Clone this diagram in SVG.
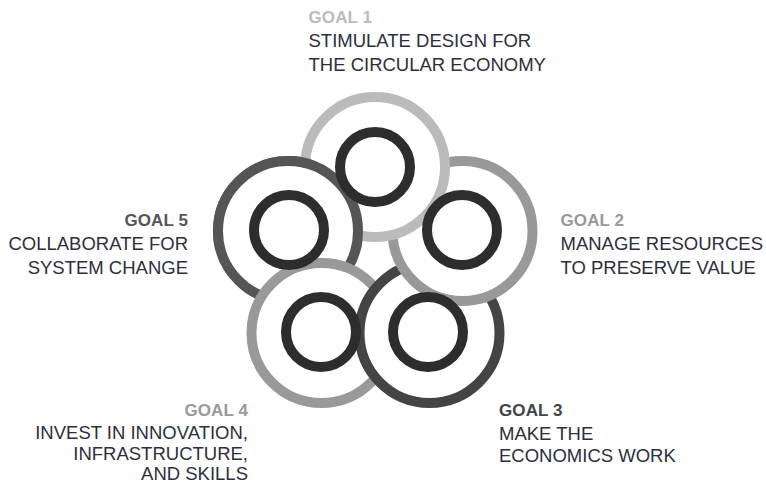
<svg xmlns="http://www.w3.org/2000/svg" xmlns:xlink="http://www.w3.org/1999/xlink" width="766" height="483" viewBox="0 0 766 483">
<style>
.outer{fill:#ffffff;stroke-width:10}
.inner{fill:none;stroke:#2d2d2d;stroke-width:10}
.t{font-family:"Liberation Sans",Arial,Helvetica,sans-serif;font-size:18.5px;fill:#2e2e3e}
.g{font-family:"Liberation Sans",Arial,Helvetica,sans-serif;font-size:17px;font-weight:bold;letter-spacing:0.1px}
.end{text-anchor:end}
</style>
<defs>
<clipPath id="clipTopLeft"><rect x="200" y="80" width="200" height="170"/></clipPath>
</defs>
<rect width="766" height="483" fill="#ffffff"/>
<g id="connectors"></g>
<g id="goal5">
<circle id="goal5-ring" class="outer" cx="288" cy="231" r="70" stroke="#555555"/>
<text class="g end" x="188" y="226" fill="#555555">GOAL 5</text>
<text class="t end" x="188" y="250">COLLABORATE FOR</text>
<text class="t end" x="188" y="274">SYSTEM CHANGE</text>
</g>
<g id="goal4">
<circle class="outer" cx="321.5" cy="333" r="70" stroke="#999999"/>
<text class="g end" x="248" y="415.5" fill="#999999">GOAL 4</text>
<text class="t end" x="248" y="439">INVEST IN INNOVATION,</text>
<text class="t end" x="248" y="459.5">INFRASTRUCTURE,</text>
<text class="t end" x="248" y="479.5">AND SKILLS</text>
</g>
<g id="goal3">
<circle class="outer" cx="429.5" cy="333" r="70" stroke="#444444"/>
<text class="g" x="499" y="416" fill="#444444">GOAL 3</text>
<text class="t" x="499" y="440">MAKE THE</text>
<text class="t" x="499" y="462">ECONOMICS WORK</text>
</g>
<g id="goal2">
<circle class="outer" cx="462.5" cy="231" r="70" stroke="#999999"/>
<text class="g" x="560.5" y="226" fill="#999999">GOAL 2</text>
<text class="t" x="560.5" y="250">MANAGE RESOURCES</text>
<text class="t" x="560.5" y="274">TO PRESERVE VALUE</text>
</g>
<g id="goal1">
<circle class="outer" cx="375" cy="167" r="70" stroke="#bbbbbb"/>
<text class="g" x="308.5" y="23" fill="#bbbbbb">GOAL 1</text>
<text class="t" x="308.5" y="47">STIMULATE DESIGN FOR</text>
<text class="t" x="308.5" y="71">THE CIRCULAR ECONOMY</text>
</g>
<g id="goal5-overlap">
<use xlink:href="#goal5-ring" href="#goal5-ring" clip-path="url(#clipTopLeft)"/>
</g>
<g id="cores">
<circle id="core1" class="inner" cx="375" cy="167" r="35"/>
<circle id="core2" class="inner" cx="462" cy="230" r="35"/>
<circle id="core3" class="inner" cx="428" cy="332" r="35"/>
<circle id="core4" class="inner" cx="321" cy="332" r="35"/>
<circle id="core5" class="inner" cx="289" cy="230" r="35"/>
</g>
</svg>
